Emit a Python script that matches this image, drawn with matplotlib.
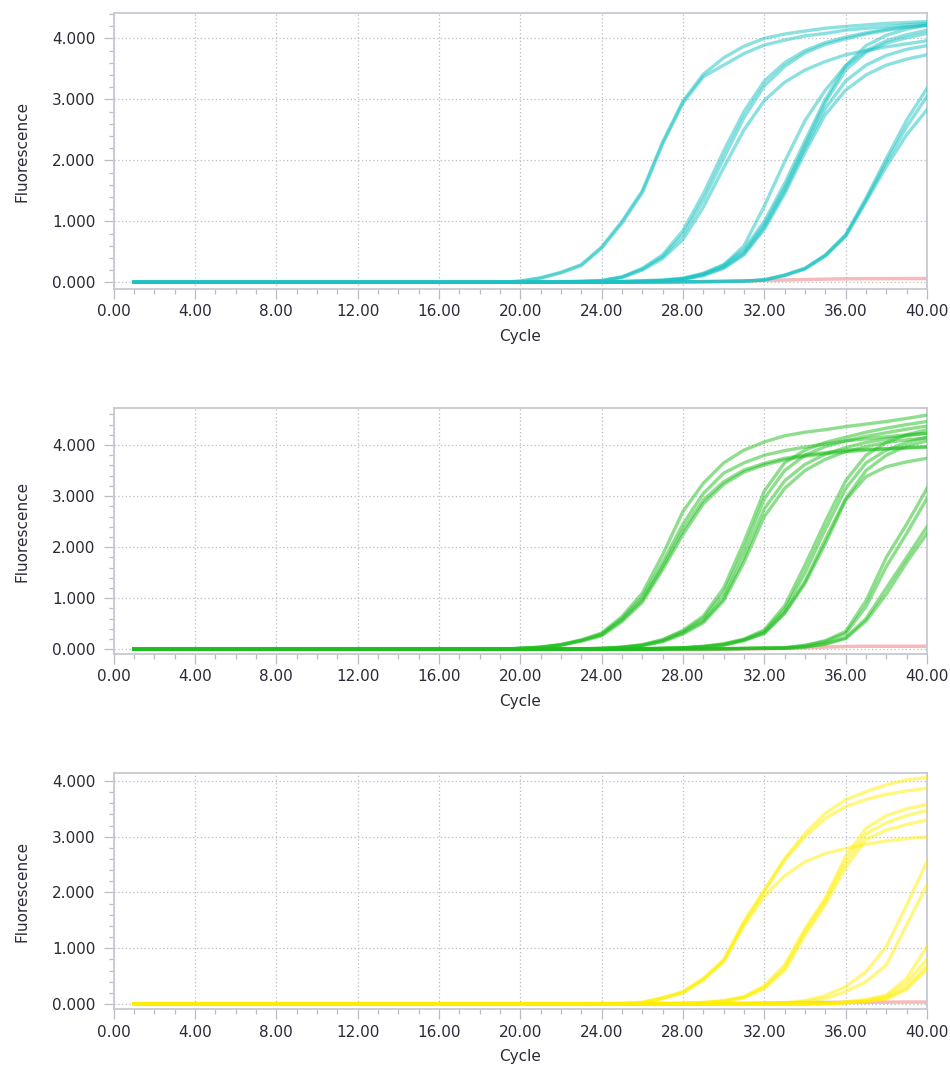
import matplotlib
matplotlib.use("Agg")
import matplotlib.pyplot as plt
from matplotlib.ticker import MultipleLocator, FuncFormatter

# Fluorescence per cycle, listed up to cycle 40; earlier cycles sit on the baseline (0)
cycles = list(range(1, 41))

cyan_curves = [
    [20, 75, 165, 290, 580, 1000, 1500, 2300, 2970, 3410, 3680, 3870, 4000, 4070, 4120, 4165, 4195, 4220, 4245, 4260, 4275],
    [18, 70, 155, 275, 560, 970, 1470, 2270, 2940, 3370, 3560, 3750, 3890, 3970, 4040, 4080, 4135, 4165, 4190, 4220, 4245],
    [5, 10, 15, 30, 90, 230, 450, 850, 1450, 2150, 2800, 3300, 3600, 3800, 3930, 4020, 4090, 4150, 4190, 4220],
    [5, 10, 15, 28, 85, 215, 420, 780, 1350, 2030, 2700, 3220, 3540, 3760, 3900, 3990, 4070, 4130, 4180, 4210],
    [5, 10, 15, 25, 80, 200, 390, 700, 1230, 1880, 2500, 2980, 3280, 3480, 3620, 3730, 3800, 3860, 3910, 3960],
    [5, 10, 15, 25, 40, 70, 140, 280, 600, 1250, 1980, 2650, 3150, 3550, 3800, 3960, 4060, 4130],
    [5, 8, 12, 20, 30, 60, 150, 290, 540, 1000, 1620, 2320, 3000, 3550, 3880, 4050, 4150, 4220],
    [5, 8, 12, 18, 28, 55, 130, 260, 500, 950, 1550, 2250, 2950, 3480, 3770, 3920, 4010, 4080],
    [5, 8, 10, 16, 25, 50, 120, 240, 470, 900, 1500, 2200, 2850, 3300, 3560, 3720, 3820, 3880],
    [5, 8, 10, 15, 25, 50, 110, 230, 450, 870, 1450, 2130, 2750, 3150, 3400, 3560, 3660, 3730],
    [5, 8, 10, 12, 15, 20, 40, 120, 230, 450, 780, 1380, 2030, 2660, 3180],
    [5, 8, 10, 12, 15, 20, 40, 110, 220, 430, 750, 1320, 1900, 2420, 2830],
    [5, 8, 10, 12, 15, 20, 40, 115, 225, 440, 770, 1350, 1970, 2550, 3050],
]
cyan_ntc = [5, 10, 15, 22, 30, 38, 45, 52, 58, 60, 60, 62, 62]

green_curves = [
    [20, 45, 95, 185, 320, 640, 1100, 1850, 2700, 3250, 3650, 3900, 4060, 4180, 4250, 4300, 4360, 4410, 4460, 4520, 4585],
    [20, 40, 90, 175, 300, 600, 1020, 1700, 2450, 3050, 3450, 3650, 3800, 3890, 3960, 4020, 4080, 4120, 4160, 4200, 4230],
    [20, 40, 85, 170, 280, 575, 965, 1620, 2335, 2920, 3280, 3510, 3640, 3740, 3800, 3850, 3900, 3915, 3930, 3950, 3965],
    [15, 35, 80, 160, 265, 540, 920, 1560, 2250, 2850, 3230, 3470, 3610, 3710, 3780, 3830, 3870, 3900, 3920, 3940, 3960],
    [5, 10, 20, 45, 90, 190, 370, 650, 1200, 2100, 3100, 3650, 3900, 4050, 4150, 4250, 4330, 4400, 4460],
    [5, 10, 18, 40, 85, 180, 350, 600, 1100, 1950, 2950, 3500, 3800, 3970, 4080, 4170, 4240, 4310, 4370],
    [5, 10, 15, 35, 75, 160, 320, 550, 1000, 1800, 2750, 3300, 3620, 3820, 3950, 4050, 4120, 4180, 4230],
    [5, 8, 15, 30, 70, 150, 300, 520, 950, 1700, 2600, 3150, 3500, 3720, 3870, 3970, 4050, 4100, 4140],
    [5, 8, 10, 20, 30, 60, 110, 200, 380, 850, 1650, 2500, 3300, 3800, 4050, 4200, 4300],
    [5, 8, 10, 20, 30, 55, 100, 190, 350, 780, 1500, 2350, 3150, 3650, 3900, 4050, 4150],
    [5, 8, 10, 18, 28, 45, 85, 180, 310, 700, 1290, 2070, 2920, 3380, 3575, 3670, 3740],
    [5, 8, 10, 18, 28, 45, 80, 170, 320, 720, 1330, 2150, 2950, 3500, 3800, 3980, 4080],
    [5, 8, 10, 12, 18, 25, 30, 80, 170, 350, 950, 1800, 2450, 3150],
    [5, 8, 10, 12, 18, 25, 30, 70, 150, 310, 835, 1620, 2270, 2955],
    [5, 8, 10, 12, 15, 20, 20, 50, 110, 230, 600, 1200, 1800, 2400],
    [5, 8, 10, 12, 15, 20, 20, 45, 100, 210, 550, 1080, 1700, 2270],
]
green_ntc = [5, 8, 10, 20, 30, 45, 55, 60, 60, 60, 60]

yellow_curves = [
    [5, 8, 12, 30, 115, 220, 460, 790, 1480, 2045, 2610, 3060, 3420, 3660, 3810, 3930, 4020, 4065],
    [5, 8, 10, 28, 105, 210, 440, 770, 1450, 2020, 2580, 3000, 3330, 3540, 3670, 3760, 3820, 3870],
    [5, 8, 10, 25, 100, 200, 430, 760, 1400, 1930, 2300, 2550, 2700, 2790, 2865, 2925, 2965, 3000],
    [5, 10, 15, 30, 60, 130, 330, 700, 1350, 1900, 2650, 3150, 3380, 3500, 3580],
    [5, 10, 15, 25, 55, 120, 300, 650, 1300, 1850, 2550, 3050, 3250, 3380, 3470],
    [5, 10, 15, 20, 50, 110, 280, 600, 1230, 1780, 2450, 2950, 3120, 3220, 3300],
    [5, 8, 10, 12, 20, 60, 150, 310, 580, 1030, 1775, 2550],
    [5, 8, 10, 12, 15, 40, 100, 220, 400, 700, 1420, 2135],
    [10, 40, 80, 160, 460, 1030],
    [10, 30, 60, 130, 380, 800],
    [5, 25, 50, 100, 300, 680],
    [5, 20, 45, 90, 260, 620],
]
yellow_ntc = [5, 10, 15, 20, 25, 28, 30, 32, 33, 35, 35]

panels = [
    (cyan_curves, cyan_ntc, "#1cc3c3", (-110, 4410)),
    (green_curves, green_ntc, "#1fbf1f", (-92, 4718)),
    (yellow_curves, yellow_ntc, "#fff000", (-95, 4138)),
]
boxes = [
    [0.1195, 0.7286, 0.8563, 0.2589],
    [0.1195, 0.3859, 0.8563, 0.2307],
    [0.1195, 0.0523, 0.8563, 0.2216],
]


def pad(values):
    # values end at cycle 40; everything before is baseline
    return [0] * (len(cycles) - len(values)) + values


spine_col = "#c6c9d1"
text_col = "#2a2a38"

fig = plt.figure(figsize=(9.5, 10.65), dpi=100)

for (curves, ntc, color, ylim), box in zip(panels, boxes):
    ax = fig.add_axes(box)
    ax.plot(cycles, pad(ntc), color="#f49c9c", lw=2.5, alpha=0.7, zorder=2)
    for c in curves:
        ax.plot(cycles, pad(c), color=color, lw=2.4, alpha=0.5, zorder=3,
                solid_joinstyle="round")

    ax.set_xlim(0, 40)
    ax.set_ylim(*ylim)
    ax.xaxis.set_major_locator(MultipleLocator(4))
    ax.xaxis.set_minor_locator(MultipleLocator(1))
    ax.yaxis.set_major_locator(MultipleLocator(1000))
    ax.yaxis.set_minor_locator(MultipleLocator(200))
    ax.xaxis.set_major_formatter(FuncFormatter(lambda v, p: f"{v:.2f}"))
    ax.yaxis.set_major_formatter(FuncFormatter(lambda v, p: f"{v / 1000:.3f}"))

    ax.grid(True, which="major", color="#b9bcc4", lw=0.9, ls=(0, (1, 2)))
    ax.set_axisbelow(True)
    for s in ax.spines.values():
        s.set_color(spine_col)
        s.set_linewidth(1.3)

    ax.tick_params(which="major", length=7, width=0.9, color="#b9bcc4",
                   labelsize=11, labelcolor=text_col)
    ax.tick_params(which="minor", length=3.5, width=0.9, color="#b9bcc4")
    ax.tick_params(axis="x", pad=4)
    ax.tick_params(axis="y", pad=6)

    ax.set_xlabel("Cycle", fontsize=11, color=text_col, labelpad=7)
    ax.set_ylabel("Fluorescence", fontsize=11, color=text_col, labelpad=16)

fig.savefig("out.png", dpi=100)
